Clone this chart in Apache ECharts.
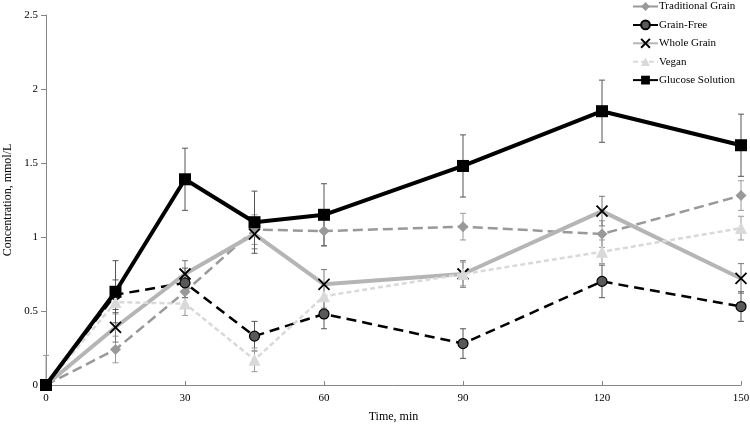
<!DOCTYPE html>
<html><head><meta charset="utf-8">
<script src="https://cdn.jsdelivr.net/npm/echarts@6/dist/echarts.min.js"></script>
<style>html,body{margin:0;padding:0;background:#fff}#c{width:750px;height:424px}</style>
</head><body><div id="c"></div>
<script>
var times = [0, 15, 30, 45, 60, 90, 120, 150];
var xTicks = [0, 30, 60, 90, 120, 150];
var yTicks = [0, 0.5, 1, 1.5, 2, 2.5];
var traditionalGrain = [0, 0.24, 0.63, 1.05, 1.04, 1.07, 1.02, 1.28];
var traditionalErr   = [0.2, 0.09, 0.08, 0.1, 0.1, 0.09, 0.09, 0.1];
var grainFree        = [0, 0.61, 0.69, 0.33, 0.48, 0.28, 0.70, 0.53];
var grainFreeErr     = [0, 0.1, 0.1, 0.1, 0.1, 0.1, 0.11, 0.1];
var wholeGrain       = [0, 0.39, 0.75, 1.02, 0.68, 0.75, 1.175, 0.72];
var wholeGrainErr    = [0, 0.1, 0.09, 0.1, 0.1, 0.09, 0.1, 0.1];
var vegan            = [0, 0.56, 0.55, 0.17, 0.60, 0.75, 0.90, 1.06];
var veganErr         = [0, 0.08, 0.08, 0.08, 0.08, 0.08, 0.08, 0.08];
var glucose          = [0, 0.63, 1.39, 1.10, 1.15, 1.48, 1.85, 1.62];
var glucoseErr       = [0, 0.21, 0.21, 0.21, 0.21, 0.21, 0.21, 0.21];

var FONT = 'Liberation Serif';
function pts(vals){ return times.map(function(t,i){ return [t, vals[i]]; }); }
function errData(vals, errs){ return times.map(function(t,i){ return [t, Math.max(0, vals[i]-errs[i]), vals[i]+errs[i]]; }); }
function errSeries(vals, errs, color){
  return {
    type:'custom', silent:true, z:1,
    data: errData(vals, errs),
    renderItem: function(params, api){
      if (api.value(2) - api.value(1) <= 0) return;
      var lo = api.coord([api.value(0), api.value(1)]);
      var hi = api.coord([api.value(0), api.value(2)]);
      var w = 3;
      var st = {stroke: color, lineWidth: 1};
      return {type:'group', children:[
        {type:'line', shape:{x1:hi[0],y1:hi[1],x2:lo[0],y2:lo[1]}, style:st},
        {type:'line', shape:{x1:hi[0]-w,y1:hi[1],x2:hi[0]+w,y2:hi[1]}, style:st},
        {type:'line', shape:{x1:lo[0]-w,y1:lo[1],x2:lo[0]+w,y2:lo[1]}, style:st}
      ]};
    }
  };
}

var chart = echarts.init(document.getElementById('c'), null, {renderer:'canvas'});
chart.setOption({
  animation:false,
  backgroundColor:'#fff',
  textStyle:{fontFamily:FONT},
  grid:{left:46, right:9, top:15, bottom:39, containLabel:false, outerBoundsMode:'none'},
  legend:{
    orient:'vertical', left:632, top:1, padding:0, itemWidth:25, itemHeight:11, itemGap:7.4,
    textStyle:{fontFamily:FONT, fontSize:11, color:'#000', padding:[0,0,0,-4]},
    data:['Traditional Grain','Grain-Free','Whole Grain','Vegan','Glucose Solution']
  },
  xAxis:{
    type:'value', min:0, max:150, interval:30,
    name:'Time, min', nameLocation:'middle', nameGap:26,
    nameTextStyle:{fontFamily:FONT, fontSize:12, color:'#000'},
    axisLine:{lineStyle:{color:'#868686', width:1}},
    axisTick:{show:true, inside:true, length:4, lineStyle:{color:'#868686'}},
    axisLabel:{fontFamily:FONT, fontSize:11, color:'#000', margin:8},
    splitLine:{show:false}
  },
  yAxis:{
    type:'value', min:0, max:2.5, interval:0.5,
    name:'Concentration, mmol/L', nameLocation:'middle', nameGap:6,
    nameTextStyle:{fontFamily:FONT, fontSize:12, color:'#000'},
    axisLine:{show:true, lineStyle:{color:'#868686', width:1}},
    axisTick:{show:true, length:5, lineStyle:{color:'#868686'}},
    axisLabel:{fontFamily:FONT, fontSize:11, color:'#000', margin:8},
    splitLine:{show:false}
  },
  series:[
    errSeries(traditionalGrain, traditionalErr, '#999'),
    errSeries(grainFree, grainFreeErr, '#555'),
    errSeries(wholeGrain, wholeGrainErr, '#777'),
    errSeries(vegan, veganErr, '#999'),
    errSeries(glucose, glucoseErr, '#555'),
    {name:'Traditional Grain', type:'line', z:2, data:pts(traditionalGrain),
     symbol:'diamond', symbolSize:11,
     lineStyle:{color:'#999', width:2.5, type:[10,5]},
     itemStyle:{color:'#999', borderColor:'#999', borderWidth:0}},
    {name:'Grain-Free', type:'line', z:3, data:pts(grainFree),
     symbol:'circle', symbolSize:10,
     lineStyle:{color:'#000', width:2.5, type:[10,6]},
     itemStyle:{color:'#595959', borderColor:'#000', borderWidth:1.2}},
    {name:'Whole Grain', type:'line', z:4, data:pts(wholeGrain),
     symbol:'path://M0,0L10,10M10,0L0,10', symbolSize:11, symbolKeepAspect:true,
     lineStyle:{color:'#b5b5b5', width:4},
     itemStyle:{color:'#000', borderColor:'#000', borderWidth:1.8}},
    {name:'Vegan', type:'line', z:5, data:pts(vegan),
     symbol:'triangle', symbolSize:12,
     lineStyle:{color:'#d9d9d9', width:2.5, type:[5,3]},
     itemStyle:{color:'#d9d9d9', borderWidth:0}},
    {name:'Glucose Solution', type:'line', z:6, data:pts(glucose),
     symbol:'rect', symbolSize:12,
     lineStyle:{color:'#000', width:4},
     itemStyle:{color:'#000', borderWidth:0}}
  ]
});
</script></body></html>
